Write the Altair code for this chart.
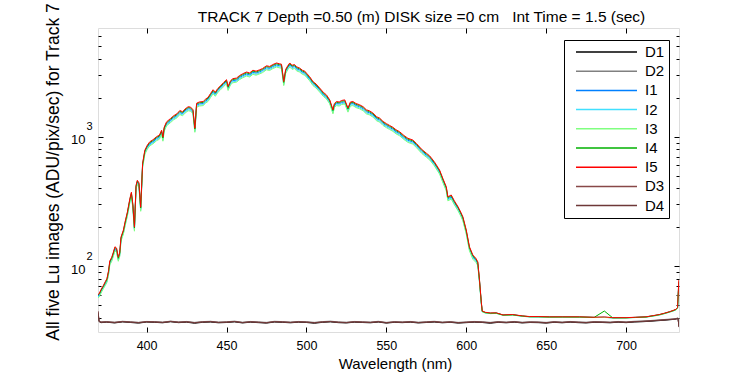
import altair as alt
import pandas as pd

FONT = "Liberation Sans"

TITLE = "TRACK 7 Depth =0.50 (m) DISK size =0 cm \u00a0 Int Time = 1.5 (sec)"
X_TITLE = "Wavelength (nm)"
Y_TITLE = "All five Lu images (ADU/pix/sec) for Track 7"

SERIES = ["D1", "D2", "I1", "I2", "I3", "I4", "I5", "D3", "D4"]
COLORS = ["#000000", "#808080", "#0080ff", "#40e0ff", "#80ff80",
          "#00b000", "#ff0000", "#884848", "#6e3838"]

X_TICKS = [400, 450, 500, 550, 600, 650, 700]
Y_MAJOR = [100, 1000]
Y_MINOR = [40, 50, 60, 70, 80, 90, 200, 300, 400, 500, 600, 700, 800, 900,
           2000, 3000, 4000, 5000, 6000]
X_DOMAIN = [369.6, 733.1]
Y_DOMAIN = [31, 6890]

# wavelength grid of the five image spectra
WL_I = [369.6, 370.5, 371.5, 373, 374.2, 375.2, 376.2, 377, 378.2, 379.2,
        380.2, 381.2, 382.3, 383.2, 384, 385.5, 386.5, 388, 389.5, 390.5,
        391.4, 392.4, 393.4, 394.2, 395.2, 396.3, 397.5, 398.9, 400.5, 402,
        404, 406.3, 408, 409.4, 410.2, 411, 412.5, 415, 417, 419,
        420.8, 422.5, 424, 426, 427.5, 429, 430.2, 431.3, 433, 435.4,
        437, 438.5, 440, 441.6, 443, 444.5, 446, 448, 450, 451,
        452.5, 454, 456.3, 458, 460, 462.5, 464.5, 466.5, 468.5, 470.8,
        472.5, 475, 477, 479, 481.3, 483, 484.4, 485.8, 487, 488.5,
        489.6, 491, 492.5, 494, 495.8, 497.5, 499, 500, 502, 504.1,
        506, 508.3, 510.5, 512.5, 514.6, 516.6, 517.5, 518.8, 520.5, 522,
        524, 526, 527.5, 529.1, 531, 533.3, 535.5, 537.5, 539.5, 541.6,
        544, 545.8, 547.9, 550, 552, 554.1, 556, 558.3, 561, 563.5,
        566.6, 569, 572, 575, 577.1, 580, 583.3, 585.5, 587.5, 588.5,
        590.6, 592.5, 594.8, 596.5, 597.9, 600, 602, 604.1, 606, 607.2,
        608.3, 609.4, 610, 612, 615, 618.8, 623, 629, 635, 639.6,
        645, 652, 660, 670.8, 680, 686.4, 691.6, 700, 706, 712.5,
        717, 720.8, 724, 727, 729.5, 731.2, 732.2, 733]

I5 = [60, 62, 66, 71, 76, 80, 92, 110, 117, 128,
      141, 138, 117, 128, 168, 190, 218, 262, 330, 372,
      300, 200, 420, 460, 440, 285, 620, 785, 860, 912,
      945, 1000, 1025, 1120, 990, 1180, 1300, 1380, 1450, 1500,
      1590, 1555, 1630, 1700, 1690, 1615, 1160, 1810, 1850, 1865,
      1950, 2010, 2150, 2300, 2200, 2350, 2450, 2600, 2750, 2440,
      2700, 2800, 2830, 2950, 3050, 3150, 3100, 3250, 3200, 3280,
      3350, 3520, 3480, 3600, 3700, 3650, 3620, 2660, 3300, 3550,
      3700, 3550, 3600, 3450, 3380, 3250, 3200, 3090, 2900, 2660,
      2550, 2370, 2200, 2100, 1920, 1610, 1800, 1865, 1850, 1900,
      1920, 1660, 1850, 1865, 1800, 1760, 1700, 1610, 1580, 1520,
      1420, 1390, 1310, 1260, 1220, 1180, 1130, 1090, 1020, 970,
      940, 880, 800, 745, 710, 640, 552, 470, 410, 343,
      354, 320, 288, 262, 240, 190, 141, 122, 115, 108,
      78, 53, 45, 44, 43.5, 43.6, 42, 42.3, 41.3, 40.8,
      40.8, 40.6, 40.6, 40.6, 40.3, 40.5, 40, 40, 40.3, 40.6,
      41.5, 42.3, 43.3, 44.4, 45.5, 46.4, 48, 78]

I4 = [60, 61, 65, 70, 75, 79, 91, 108, 115, 126,
      139, 136, 115, 126, 165, 187, 215, 258, 325, 366,
      296, 197, 414, 453, 433, 281, 611, 773, 847, 898,
      931, 985, 1010, 1103, 975, 1162, 1280, 1359, 1428, 1478,
      1566, 1532, 1606, 1675, 1665, 1591, 1143, 1783, 1822, 1837,
      1921, 1980, 2118, 2266, 2167, 2315, 2413, 2561, 2709, 2403,
      2660, 2758, 2788, 2906, 3004, 3103, 3054, 3201, 3152, 3231,
      3300, 3467, 3428, 3546, 3645, 3595, 3566, 2620, 3251, 3497,
      3645, 3497, 3546, 3398, 3329, 3201, 3152, 3044, 2857, 2620,
      2512, 2334, 2167, 2069, 1891, 1586, 1773, 1837, 1822, 1872,
      1891, 1635, 1822, 1837, 1773, 1734, 1675, 1586, 1556, 1497,
      1399, 1369, 1290, 1241, 1202, 1162, 1113, 1074, 1005, 955,
      926, 867, 788, 734, 699, 630, 544, 463, 404, 338,
      349, 315, 284, 258, 236, 187, 139, 120, 113, 106.5,
      77, 52.5, 44.8, 43.8, 43.3, 43.4, 41.9, 42.1, 41.2, 40.7,
      40.7, 40.5, 40.5, 40.5, 40.2, 45, 39.9, 39.9, 40.2, 40.5,
      41.4, 42.2, 43.2, 44.3, 45.4, 46.3, 47.8, 76]

I1 = [59, 60, 64, 69, 73, 77, 89, 106, 113, 124,
      136, 133, 113, 124, 162, 183, 210, 253, 318, 359,
      290, 193, 405, 444, 425, 275, 598, 758, 830, 880,
      912, 965, 989, 1081, 955, 1139, 1255, 1332, 1399, 1448,
      1534, 1501, 1573, 1641, 1631, 1558, 1119, 1747, 1785, 1800,
      1882, 1940, 2075, 2220, 2123, 2268, 2364, 2509, 2654, 2355,
      2606, 2702, 2731, 2847, 2943, 3040, 2992, 3136, 3088, 3165,
      3233, 3397, 3358, 3474, 3571, 3522, 3493, 2567, 3185, 3426,
      3571, 3426, 3474, 3329, 3262, 3136, 3088, 2982, 2799, 2567,
      2461, 2287, 2123, 2027, 1853, 1554, 1737, 1800, 1785, 1834,
      1853, 1602, 1785, 1800, 1737, 1698, 1641, 1554, 1525, 1467,
      1370, 1341, 1264, 1216, 1177, 1139, 1090, 1052, 984, 936,
      907, 849, 772, 719, 685, 618, 533, 454, 396, 331,
      342, 309, 278, 253, 232, 183, 136, 118, 111, 104,
      76, 52, 44.6, 43.6, 43.2, 43.4, 41.9, 42.2, 41.1, 40.7,
      40.6, 40.5, 40.7, 40.4, 40.2, 40.3, 39.9, 40, 40.2, 40.6,
      41.3, 42.1, 43.1, 44.2, 45.2, 46.2, 47.5, 74]

I2 = [58, 59, 63, 68, 72, 76, 87, 104, 111, 121,
      133, 130, 111, 121, 159, 180, 206, 248, 312, 352,
      284, 189, 397, 435, 416, 269, 586, 742, 813, 862,
      893, 945, 969, 1058, 936, 1115, 1229, 1304, 1370, 1418,
      1503, 1470, 1540, 1607, 1597, 1526, 1096, 1710, 1748, 1762,
      1843, 1899, 2032, 2174, 2079, 2221, 2315, 2457, 2599, 2306,
      2552, 2646, 2674, 2788, 2882, 2977, 2930, 3071, 3024, 3100,
      3166, 3326, 3289, 3402, 3497, 3449, 3421, 2514, 3119, 3355,
      3497, 3355, 3402, 3260, 3194, 3071, 3024, 2920, 2741, 2514,
      2410, 2240, 2079, 1985, 1814, 1521, 1701, 1762, 1748, 1796,
      1814, 1569, 1748, 1762, 1701, 1663, 1607, 1521, 1493, 1436,
      1342, 1314, 1238, 1191, 1153, 1115, 1068, 1030, 964, 917,
      888, 832, 756, 704, 671, 605, 522, 444, 387, 324,
      335, 302, 272, 248, 227, 180, 134, 116, 109, 103,
      75, 51.5, 44.5, 43.5, 43, 43.2, 41.8, 42, 41, 40.6,
      40.5, 40.4, 40.5, 40.3, 40.1, 40.3, 39.8, 39.9, 40.1, 40.4,
      41.2, 42, 43, 44.1, 45.1, 46, 47.3, 73]

I3 = [57, 58, 62, 67, 71, 75, 86, 102, 109, 119,
      131, 128, 109, 119, 156, 177, 203, 244, 307, 346,
      279, 186, 391, 428, 409, 265, 577, 730, 800, 848,
      879, 930, 953, 1042, 921, 1097, 1209, 1283, 1349, 1395,
      1479, 1446, 1516, 1581, 1572, 1502, 1079, 1683, 1721, 1734,
      1814, 1869, 2000, 2139, 2046, 2186, 2279, 2418, 2558, 2269,
      2511, 2604, 2632, 2744, 2837, 2930, 2883, 3023, 2976, 3050,
      3116, 3274, 3236, 3348, 3441, 3395, 3367, 2474, 3069, 3302,
      3441, 3302, 3348, 3209, 3143, 3023, 2976, 2874, 2697, 2474,
      2372, 2204, 2046, 1953, 1786, 1497, 1674, 1734, 1721, 1767,
      1786, 1544, 1721, 1734, 1674, 1637, 1581, 1497, 1469, 1414,
      1321, 1293, 1218, 1172, 1135, 1097, 1051, 1014, 949, 902,
      874, 818, 744, 693, 660, 595, 513, 437, 381, 319,
      329, 298, 268, 244, 223, 177, 131, 113, 107, 101,
      74, 51, 44.3, 43.4, 43, 43.1, 41.7, 41.9, 41, 40.5,
      40.5, 40.3, 40.4, 40.3, 40.1, 40.2, 39.8, 39.8, 40.1, 40.4,
      41.1, 41.9, 42.9, 44, 45, 45.9, 47.2, 72]

# wavelength grid of the four dark frames
WL_D = [369.6, 370.3, 371.5, 375, 380, 385, 390, 395, 400, 405,
        410, 415, 420, 425, 430, 435, 440, 445, 450, 455,
        460, 465, 470, 475, 480, 485, 490, 495, 500, 505,
        510, 515, 520, 525, 530, 535, 540, 545, 550, 555,
        560, 565, 570, 575, 580, 585, 590, 595, 600, 605,
        610, 615, 620, 625, 630, 635, 640, 645, 650, 655,
        660, 665, 670, 675, 680, 685, 690, 695, 700, 705,
        710, 715, 720, 725, 730, 731.5, 732.5, 733.1]

D1 = [43.0, 37.4, 36.6, 36.9, 36.4, 37.1, 36.7, 36.3, 37.0, 36.8,
      36.5, 37.2, 36.6, 36.9, 36.2, 36.8, 37.0, 36.5, 36.7, 37.1,
      36.4, 36.9, 36.6, 36.3, 37.0, 36.8, 36.5, 36.9, 36.7, 36.2,
      36.8, 37.1, 36.6, 36.4, 36.9, 36.7, 36.5, 37.0, 36.3, 36.8,
      36.6, 36.9, 36.4, 36.7, 37.0, 36.5, 36.8, 36.3, 36.6, 36.9,
      36.7, 36.2, 36.8, 36.5, 36.9, 36.4, 36.7, 36.6, 36.3, 36.8,
      36.5, 36.9, 36.6, 36.4, 36.8, 36.7, 36.5, 36.9, 36.6, 37.0,
      37.2, 37.5, 37.9, 38.3, 38.8, 39.1, 39.4, 34.2]

D2 = [44.5, 37.8, 37.1, 37.3, 36.9, 37.5, 37.2, 36.8, 37.4, 37.3,
      37.0, 37.6, 37.1, 37.4, 36.8, 37.3, 37.5, 37.0, 37.2, 37.6,
      36.9, 37.4, 37.1, 36.8, 37.5, 37.3, 37.0, 37.4, 37.2, 36.8,
      37.3, 37.6, 37.1, 36.9, 37.4, 37.2, 37.0, 37.5, 36.8, 37.3,
      37.1, 37.4, 36.9, 37.2, 37.5, 37.0, 37.3, 36.8, 37.1, 37.4,
      37.2, 36.8, 37.3, 37.0, 37.4, 36.9, 37.2, 37.1, 36.8, 37.3,
      37.0, 37.4, 37.1, 36.9, 37.3, 37.2, 37.0, 37.4, 37.1, 37.5,
      37.7, 38.0, 38.4, 38.8, 39.2, 39.5, 39.8, 35.0]

D3 = [45.0, 37.6, 37.0, 37.2, 36.8, 37.4, 37.0, 36.7, 37.3, 37.1,
      36.8, 37.5, 36.9, 37.2, 36.6, 37.1, 37.4, 36.8, 37.0, 37.4,
      36.7, 37.2, 36.9, 36.6, 37.3, 37.1, 36.8, 37.2, 37.0, 36.6,
      37.1, 37.4, 36.9, 36.7, 37.2, 37.0, 36.8, 37.3, 36.6, 37.1,
      36.9, 37.2, 36.7, 37.0, 37.3, 36.8, 37.1, 36.6, 36.9, 37.2,
      37.0, 36.6, 37.1, 36.8, 37.2, 36.7, 37.0, 36.9, 36.6, 37.1,
      36.8, 37.2, 36.9, 36.7, 37.1, 37.0, 36.8, 37.2, 36.9, 37.3,
      37.5, 37.8, 38.2, 38.6, 39.0, 39.3, 39.6, 34.0]

D4 = [44.0, 37.2, 36.8, 37.0, 36.6, 37.2, 36.9, 36.5, 37.1, 37.0,
      36.7, 37.3, 36.8, 37.1, 36.5, 37.0, 37.2, 36.7, 36.9, 37.3,
      36.6, 37.1, 36.8, 36.5, 37.2, 37.0, 36.7, 37.1, 36.9, 36.5,
      37.0, 37.3, 36.8, 36.6, 37.1, 36.9, 36.7, 37.2, 36.5, 37.0,
      36.8, 37.1, 36.6, 36.9, 37.2, 36.7, 37.0, 36.5, 36.8, 37.1,
      36.9, 36.5, 37.0, 36.7, 37.1, 36.6, 36.9, 36.8, 36.5, 37.0,
      36.7, 37.1, 36.8, 36.6, 37.0, 36.9, 36.7, 37.1, 36.8, 37.2,
      37.4, 37.7, 38.1, 38.5, 38.9, 39.2, 39.5, 33.8]

# ---------------------------------------------------------------- data table
SERIES_DATA = {
    "D1": (WL_D, D1), "D2": (WL_D, D2),
    "I1": (WL_I, I1), "I2": (WL_I, I2), "I3": (WL_I, I3),
    "I4": (WL_I, I4), "I5": (WL_I, I5),
    "D3": (WL_D, D3), "D4": (WL_D, D4),
}
rows = []
for k, name in enumerate(SERIES):
    wl, vals = SERIES_DATA[name]
    for w, v in zip(wl, vals):
        rows.append({"wl": w, "val": v, "series": name, "k": k})
df = pd.DataFrame(rows)

anchor_df = pd.DataFrame({"wl": [500.0], "val": [500.0]})

W, H = 581, 304
PAD = {"left": 98, "top": 28, "right": 750 - 98 - W, "bottom": 375 - 28 - H}


def xs():
    return alt.Scale(domain=X_DOMAIN, nice=False, zero=False)


def ys():
    return alt.Scale(type="log", domain=Y_DOMAIN, nice=False)


lines = alt.Chart(df).mark_line(strokeWidth=1, clip=True).encode(
    x=alt.X("wl:Q", scale=xs(), axis=alt.Axis(
        orient="bottom", values=X_TICKS, ticks=False, tickSize=0, domain=False,
        grid=False, labelFontSize=12.5, labelPadding=7, labelColor="black",
        labelFont=FONT, title=X_TITLE, titleFont=FONT, titleFontSize=15,
        titleFontWeight="normal", titleColor="black", titleBaseline="alphabetic",
        titleY=36, titleX=297)),
    y=alt.Y("val:Q", scale=ys(), axis=alt.Axis(
        orient="left", values=Y_MAJOR, labelExpr="'10'", ticks=False, tickSize=0,
        domain=False, grid=False, labelFontSize=13, labelPadding=13,
        labelOffset=3, labelColor="black", labelFont=FONT, title=Y_TITLE,
        titleFont=FONT, titleFontSize=17.5, titleFontWeight="normal",
        titleColor="black", titleAngle=270, titleBaseline="alphabetic",
        titleAlign="center", titleX=-40, titleY=143.5)),
    color=alt.Color("series:N", scale=alt.Scale(domain=SERIES, range=COLORS),
                    legend=alt.Legend(
                        orient="none", legendX=466, legendY=12, title=None,
                        symbolType="stroke", symbolSize=3721,
                        symbolStrokeWidth=1.5, clipHeight=16, rowPadding=3.2,
                        padding=4, symbolOffset=7, labelOffset=7,
                        labelExpr="datum.label + '    '",
                        labelFont=FONT, labelFontSize=15, labelColor="black",
                        strokeColor="black", fillColor="white")),
    order=alt.Order("k:Q"),
)


def tick_layer(xaxis, yaxis):
    return alt.Chart(anchor_df).mark_point(opacity=0).encode(
        x=alt.X("wl:Q", scale=xs(), axis=xaxis),
        y=alt.Y("val:Q", scale=ys(), axis=yaxis),
    )


def tick_axis(orient, values, size):
    return alt.Axis(orient=orient, values=values, offset=-size, tickSize=size,
                    ticks=True, labels=False, domain=False, grid=False,
                    title=None, tickColor="black", tickWidth=1)


sup_axis = alt.Axis(orient="left", values=Y_MAJOR,
                    labelExpr="datum.value == 100 ? '2' : '3'", ticks=False,
                    tickSize=0, domain=False, grid=False, labelFontSize=11,
                    labelPadding=6, labelOffset=-10, labelColor="black",
                    labelFont=FONT, title=None)

title_axis = alt.Axis(orient="top", values=X_TICKS, ticks=False, tickSize=0,
                      labels=False, domain=False, grid=False, title=TITLE,
                      titleFont=FONT, titleFontSize=15.5,
                      titleFontWeight="normal", titleColor="black",
                      titleBaseline="alphabetic", titleAlign="center",
                      titleX=323, titleY=-7)

chart = alt.layer(
    lines,
    tick_layer(tick_axis("bottom", X_TICKS, 5), tick_axis("left", Y_MAJOR, 5)),
    tick_layer(tick_axis("top", X_TICKS, 5), tick_axis("right", Y_MAJOR, 5)),
    tick_layer(None, tick_axis("left", Y_MINOR, 3)),
    tick_layer(None, tick_axis("right", Y_MINOR, 3)),
    tick_layer(title_axis, sup_axis),
).resolve_axis(x="independent", y="independent").properties(
    width=W, height=H,
    padding=PAD,
    autosize=alt.AutoSizeParams(type="none"),
).configure_view(stroke="black", strokeWidth=1).configure(background="white")

chart.save("out.html", embed_options={"renderer": "svg", "actions": False})
